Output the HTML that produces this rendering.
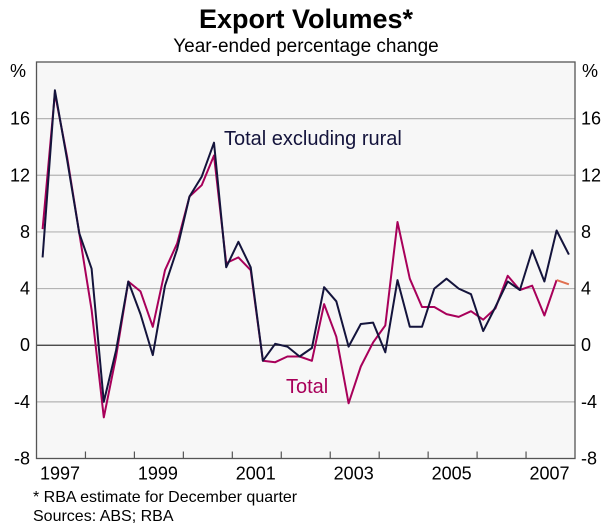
<!DOCTYPE html>
<html><head><meta charset="utf-8"><style>
html,body{margin:0;padding:0;background:#fff;}
svg{display:block;font-family:"Liberation Sans",Arial,sans-serif;}
</style></head><body>
<svg width="610" height="529" viewBox="0 0 610 529">
<text x="306" y="28" text-anchor="middle" font-size="27" font-weight="bold" fill="#000">Export Volumes*</text>
<text x="306" y="52" text-anchor="middle" font-size="19" fill="#000">Year-ended percentage change</text>
<rect x="36.5" y="62" width="538.5" height="396.5" fill="#f7f7f7"/>
<g id="grid"></g>
<g id="series"></g>
<rect x="36.5" y="62" width="538.5" height="396.5" fill="none" stroke="#555" stroke-width="1.3"/>
<g id="axes"></g>
<text x="224" y="145" font-size="20" fill="#14143c">Total excluding rural</text>
<text x="286" y="393" font-size="20" fill="#a8005a">Total</text>
<text x="33" y="502" font-size="16" fill="#000">*   RBA estimate for December quarter</text>
<text x="33" y="521" font-size="16" fill="#000">Sources: ABS; RBA</text>
</svg>
<script>
const yTicks=[-8,-4,0,4,8,12,16];
const yearLabels=["1997","1999","2001","2003","2005","2007"];
const exRural=[6.2,18.0,13.1,7.9,5.4,-4.0,-0.35,4.5,2.2,-0.7,4.2,6.8,10.5,11.9,14.3,5.5,7.3,5.5,-1.1,0.1,-0.1,-0.8,-0.2,4.1,3.1,-0.1,1.5,1.6,-0.5,4.6,1.3,1.3,4.0,4.7,4.0,3.6,1.0,2.7,4.5,3.9,6.7,4.5,8.1,6.4];
const total=[8.2,17.8,13.3,7.9,2.5,-5.1,-0.8,4.5,3.8,1.3,5.3,7.2,10.5,11.3,13.4,5.8,6.2,5.3,-1.1,-1.2,-0.8,-0.8,-1.1,2.9,0.6,-4.1,-1.5,0.2,1.4,8.7,4.7,2.7,2.7,2.2,2.0,2.4,1.8,2.6,4.9,3.9,4.2,2.1,4.6,4.3];
const startYear=1997, endYear=2008;
const L=36.5,R=575,T=62,B=458.5,yMin=-8,yMax=20;
const ns="http://www.w3.org/2000/svg";
const Y=v=>B-(v-yMin)/(yMax-yMin)*(B-T);
const yearW=(R-L)/(endYear-startYear);
const XQ=i=>L+yearW*(i+0.5)/4;
const XY=yr=>L+(yr-startYear)*yearW;
function mk(tag,attrs,parent){const e=document.createElementNS(ns,tag);for(const k in attrs)e.setAttribute(k,attrs[k]);parent.appendChild(e);return e;}
const grid=document.getElementById('grid'),axes=document.getElementById('axes'),ser=document.getElementById('series');
yTicks.forEach(v=>{
  if(v>yMin){const ln=mk('line',{x1:L,x2:R,y1:Y(v),y2:Y(v),stroke:v===0?'#333':'#b4b4b4','stroke-width':1.2},grid);
  
  }
  const t1=mk('text',{x:30,y:Y(v)+6,'text-anchor':'end','font-size':18},axes);t1.textContent=v;
  
  
  const t2=mk('text',{x:581,y:Y(v)+6,'font-size':18},axes);t2.textContent=v;
  
  
});
const p1=mk('text',{x:10,y:77,'font-size':18},axes);p1.textContent='%';


const p2=mk('text',{x:582,y:77,'font-size':18},axes);p2.textContent='%';


for(let yr=startYear+1;yr<endYear;yr++){
  const tk=mk('line',{x1:XY(yr),x2:XY(yr),y1:B,y2:B-7,stroke:'#555','stroke-width':1.2},axes);
  
  
}
yearLabels.forEach(s=>{
  const yr=+s;const t=mk('text',{x:XY(yr)+yearW/2-1,y:B+21,'text-anchor':'middle','font-size':18},axes);t.textContent=s;
  
  
});
const n=total.length;
const tp=total.slice(0,n-1).map((v,i)=>XQ(i).toFixed(1)+','+Y(v).toFixed(1)).join(' ');
const pl1=mk('polyline',{points:tp,fill:'none',stroke:'#a8005a','stroke-width':2,'stroke-linejoin':'round'},ser);


const pe=mk('line',{x1:XQ(n-2),y1:Y(total[n-2]),x2:XQ(n-1),y2:Y(total[n-1]),stroke:'#e07050','stroke-width':2},ser);


const bp=exRural.map((v,i)=>XQ(i).toFixed(1)+','+Y(v).toFixed(1)).join(' ');
const pl2=mk('polyline',{points:bp,fill:'none',stroke:'#14143c','stroke-width':2,'stroke-linejoin':'round'},ser);


</script>
</body></html>
